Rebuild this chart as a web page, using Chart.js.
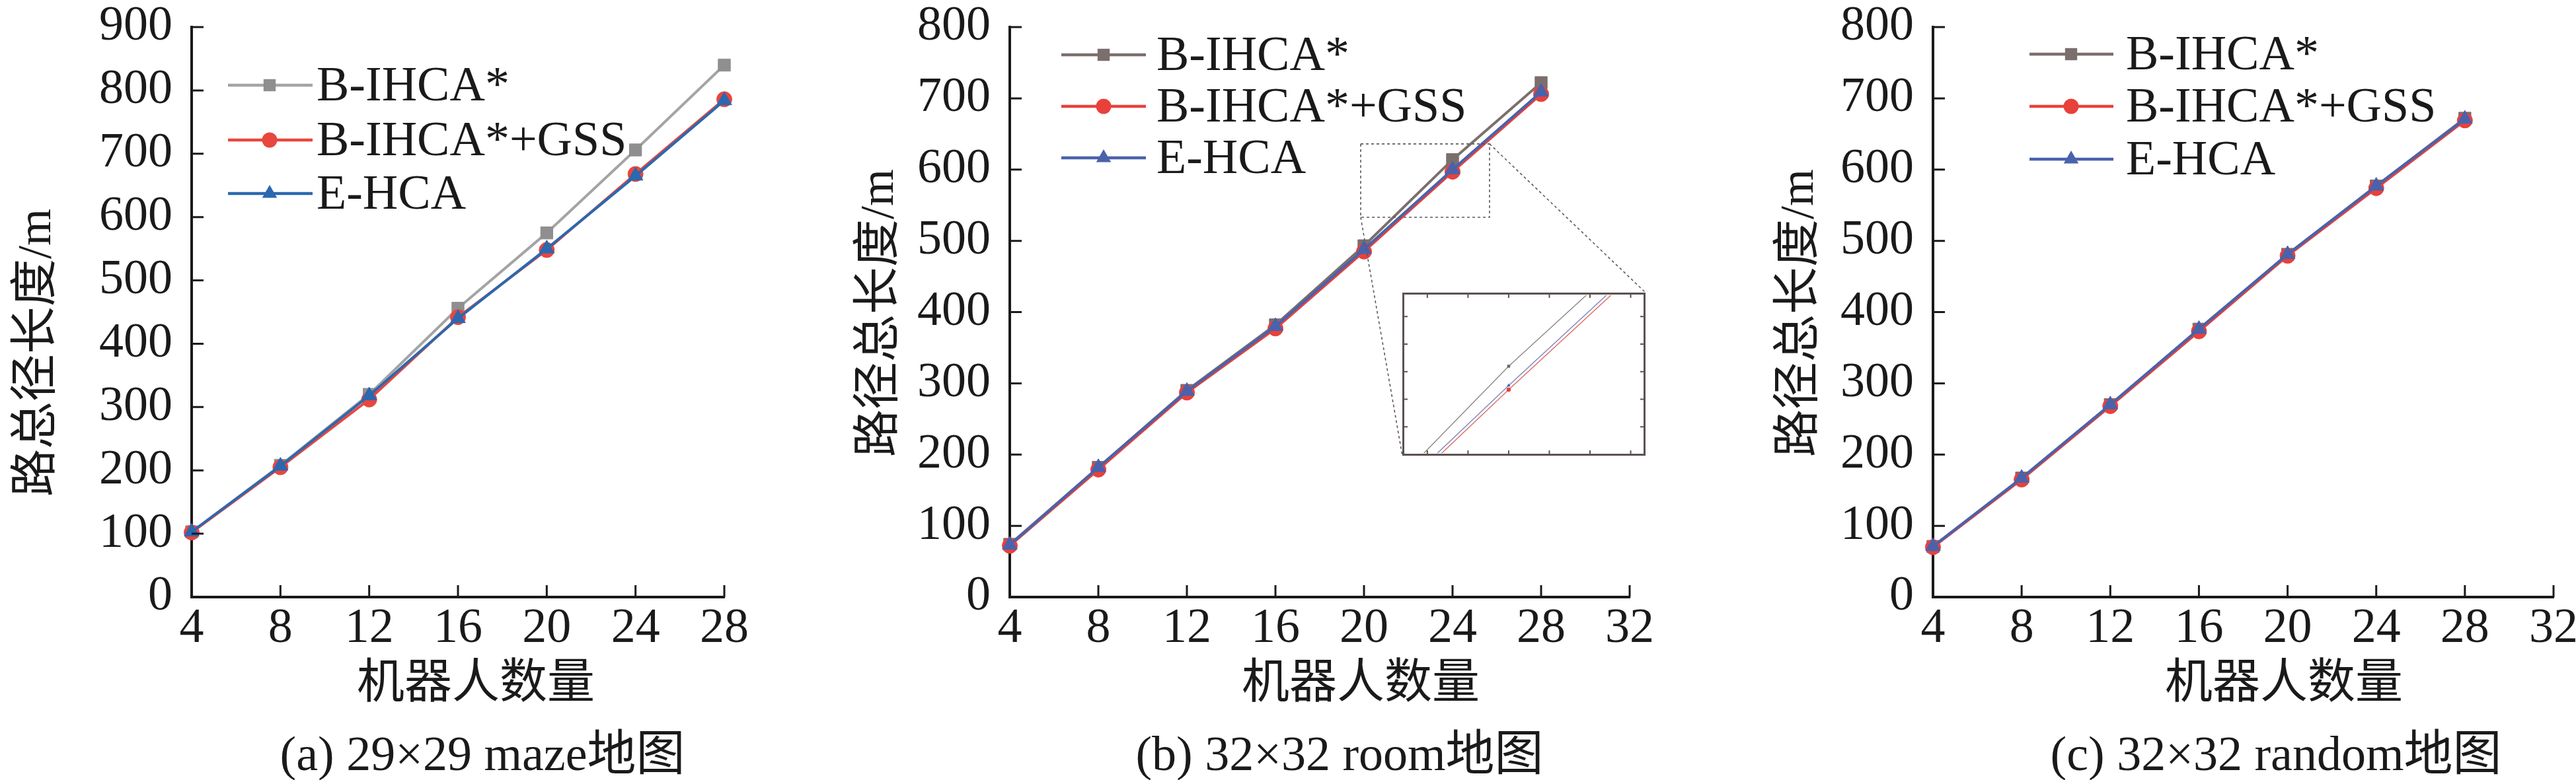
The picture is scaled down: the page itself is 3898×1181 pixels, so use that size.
<!DOCTYPE html>
<html><head><meta charset="utf-8">
<script src="https://cdn.jsdelivr.net/npm/chart.js@4.4.1/dist/chart.umd.min.js"></script>
<style>
html,body{margin:0;padding:0;background:#fff;width:3898px;height:1181px;overflow:hidden;}
body{position:relative;}
canvas{position:absolute;}
.t{position:absolute;white-space:nowrap;font-family:"Liberation Serif","Noto Sans CJK SC",serif;color:#1a1a1a;line-height:1;transform:translate(-50%,-50%);}
.yt{transform:translate(-50%,-50%) rotate(-90deg);}
</style></head><body>
<script>
// ---------------- data ----------------
const robots = [4, 8, 12, 16, 20, 24, 28];
const seriesNames = ['B-IHCA*', 'B-IHCA*+GSS', 'E-HCA'];
const xTicksA = [4, 8, 12, 16, 20, 24, 28];
const xTicksBC = [4, 8, 12, 16, 20, 24, 28, 32];
const yTicksA = [0, 100, 200, 300, 400, 500, 600, 700, 800, 900];
const yTicksBC = [0, 100, 200, 300, 400, 500, 600, 700, 800];
// (a) 29x29 maze
const mazeBIHCA = [103, 208, 320, 456, 575, 706, 840];
const mazeGSS   = [102, 205, 312, 442, 548, 668, 786];
const mazeEHCA  = [103, 207, 318, 440, 550, 665, 784];
// (b) 32x32 room
const roomBIHCA = [74, 182, 290, 382, 493, 614, 722];
const roomGSS   = [72, 179, 287, 377, 485, 597, 706];
const roomEHCA  = [73, 182, 289, 380, 488, 600, 709];
// (c) 32x32 random
const randBIHCA = [71, 167, 270, 376, 481, 577, 672];
const randGSS   = [70, 165, 268, 373, 479, 574, 669];
const randEHCA  = [71, 167, 270, 376, 481, 577, 671];
// zoom window in (b) and the inset's view range
const zoomBoxX = [19.85, 25.67];
const zoomBoxY = [533, 636];
const insetX = [21.45, 27.3];
const insetY = [551, 665.5];
const insetXTicks = [22, 23, 24, 25, 26, 27];
const insetYTicks = [570, 590, 610, 630, 650];
// texts
const yTitles = ['路总径长度/m', '路径总长度/m', '路径总长度/m'];
const xTitle = '机器人数量';
const captions = ['(a) 29×29 maze地图', '(b) 32×32 room地图', '(c) 32×32 random地图'];

// ---------------- layout ----------------
const TOP = -100, H = 1281, AREA_TOP = 141, AREA_BOTTOM = 1004;
const INK = '#1a1a1a';
const SERIF = '"Liberation Serif", "Times New Roman", serif';
const insetBox = {left: 2122, top: 443, width: 368, height: 247};

function drawMarker(ctx, style, x, y, r, color) {
  ctx.save();
  ctx.fillStyle = color;
  ctx.beginPath();
  if (style === 'rect') {
    const s = r * Math.SQRT1_2;
    ctx.rect(x - s, y - s, 2 * s, 2 * s);
  } else if (style === 'circle') {
    ctx.arc(x, y, r, 0, Math.PI * 2);
  } else {
    let a = 0;
    ctx.moveTo(x + Math.sin(a) * r, y - Math.cos(a) * r);
    a += 2 * Math.PI / 3; ctx.lineTo(x + Math.sin(a) * r, y - Math.cos(a) * r);
    a += 2 * Math.PI / 3; ctx.lineTo(x + Math.sin(a) * r, y - Math.cos(a) * r);
    ctx.closePath();
  }
  ctx.fill();
  ctx.restore();
}

const innerTicks = {
  id: 'innerTicks',
  afterDraw(chart, args, opts) {
    if (!opts || !opts.len) return;
    const ctx = chart.ctx, x = chart.scales.x, y = chart.scales.y, a = chart.chartArea;
    ctx.save();
    ctx.strokeStyle = INK; ctx.lineWidth = 3;
    ctx.beginPath();
    x.ticks.forEach(t => { const p = x.getPixelForValue(t.value); ctx.moveTo(p, a.bottom); ctx.lineTo(p, a.bottom - opts.len); });
    y.ticks.forEach(t => { const p = y.getPixelForValue(t.value); ctx.moveTo(a.left, p); ctx.lineTo(a.left + opts.len, p); });
    ctx.stroke();
    ctx.restore();
  }
};

const customLegend = {
  id: 'customLegend',
  afterDraw(chart, args, o) {
    if (!o || !o.rows) return;
    const ctx = chart.ctx;
    chart.data.datasets.forEach((ds, i) => {
      const yy = o.rows[i];
      ctx.save();
      ctx.strokeStyle = ds.borderColor; ctx.lineWidth = 4.5;
      ctx.beginPath(); ctx.moveTo(o.x0, yy); ctx.lineTo(o.x1, yy); ctx.stroke();
      drawMarker(ctx, ds.pointStyle, o.xm, yy, ds.pointRadius, ds.pointBackgroundColor);
      ctx.fillStyle = INK;
      ctx.font = '74px ' + SERIF;
      ctx.textAlign = 'left';
      ctx.textBaseline = 'alphabetic';
      ctx.fillText(ds.label, o.xt, yy + 23);
      ctx.restore();
    });
  }
};

const zoomMarks = {
  id: 'zoomMarks',
  afterDatasetsDraw(chart, args, o) {
    if (!o || !o.on) return;
    const ctx = chart.ctx, x = chart.scales.x, y = chart.scales.y;
    const l = x.getPixelForValue(zoomBoxX[0]), r = x.getPixelForValue(zoomBoxX[1]);
    const t = y.getPixelForValue(zoomBoxY[1]), b = y.getPixelForValue(zoomBoxY[0]);
    const ox = o.offsetX, oy = o.offsetY;
    const iL = insetBox.left - ox, iT = insetBox.top - oy, iR = iL + insetBox.width, iB = iT + insetBox.height;
    ctx.save();
    ctx.strokeStyle = '#5a5a5a'; ctx.lineWidth = 1.6; ctx.setLineDash([4, 4]);
    ctx.strokeRect(l, t, r - l, b - t);
    ctx.beginPath();
    ctx.moveTo(l, b); ctx.lineTo(iL, iB);
    ctx.moveTo(r, t); ctx.lineTo(iR, iT);
    ctx.stroke();
    ctx.restore();
  }
};

function makeDatasets(vals, cols) {
  const styles = ['rect', 'circle', 'triangle'];
  const radii = [13, 11.5, 13];
  return vals.map((v, i) => ({
    label: seriesNames[i],
    data: robots.map((r, k) => ({x: r, y: v[k]})),
    borderColor: cols[i].line,
    backgroundColor: cols[i].mark,
    pointBackgroundColor: cols[i].mark,
    pointBorderColor: cols[i].mark,
    pointBorderWidth: 1,
    pointStyle: styles[i],
    pointRadius: radii[i],
    borderWidth: 4,
    clip: false,
    order: 3 - i
  }));
}

const palA = [{line: '#a4a4a4', mark: '#8f8f8f'}, {line: '#e8463f', mark: '#e8463f'}, {line: '#2b68af', mark: '#2b68af'}];
const palB = [{line: '#7b6f6d', mark: '#7b6f6d'}, {line: '#e8413c', mark: '#e8413c'}, {line: '#4a62ab', mark: '#4a62ab'}];

const panels = [
  {left: 0, width: 1300, yW: 290, padR: 204, xMax: 28, yMax: 900, xt: xTicksA, yt: yTicksA,
   vals: [mazeBIHCA, mazeGSS, mazeEHCA], pal: palA,
   legend: {x0: 345, x1: 473, xm: 408, xt: 479, rows: [129, 212, 293]},
   yTitle: [52, 534], xTitle: [720, 1032], cap: [730, 1141]},
  {left: 1300, width: 1300, yW: 228, padR: 134, xMax: 32, yMax: 800, xt: xTicksBC, yt: yTicksBC,
   vals: [roomBIHCA, roomGSS, roomEHCA], pal: palB, zoom: true,
   legend: {x0: 1606, x1: 1734, xm: 1670, xt: 1750, rows: [83, 161, 239]},
   yTitle: [1327, 474], xTitle: [2059, 1032], cap: [2027, 1141]},
  {left: 2600, width: 1400, yW: 325, padR: 136, xMax: 32, yMax: 800, xt: xTicksBC, yt: yTicksBC,
   vals: [randBIHCA, randGSS, randEHCA], pal: palB,
   legend: {x0: 3071, x1: 3198, xm: 3134, xt: 3217, rows: [82, 161, 241]},
   yTitle: [2719, 474], xTitle: [3456, 1032], cap: [3444, 1141]}
];

function addText(txt, x, y, size, cls) {
  const d = document.createElement('div');
  d.className = 't' + (cls ? ' ' + cls : '');
  d.style.left = x + 'px'; d.style.top = y + 'px'; d.style.fontSize = size + 'px';
  d.textContent = txt;
  document.body.appendChild(d);
}

const insetFrame = {
  id: 'insetFrame',
  afterDraw(chart) {
    const ctx = chart.ctx, x = chart.scales.x, y = chart.scales.y;
    const w = chart.width, h = chart.height;
    ctx.save();
    ctx.strokeStyle = '#5b5252'; ctx.lineWidth = 3;
    ctx.strokeRect(1.5, 1.5, w - 3, h - 3);
    ctx.lineWidth = 2;
    ctx.beginPath();
    insetXTicks.forEach(v => { const p = x.getPixelForValue(v); ctx.moveTo(p, h); ctx.lineTo(p, h - 8); ctx.moveTo(p, 0); ctx.lineTo(p, 8); });
    insetYTicks.forEach(v => { const p = y.getPixelForValue(v); ctx.moveTo(0, p); ctx.lineTo(8, p); ctx.moveTo(w, p); ctx.lineTo(w - 8, p); });
    ctx.stroke();
    ctx.restore();
  }
};

Chart.defaults.font.family = SERIF;
panels.forEach((p, idx) => {
  const cv = document.createElement('canvas');
  cv.width = p.width; cv.height = H;
  cv.style.left = p.left + 'px'; cv.style.top = TOP + 'px';
  cv.style.width = p.width + 'px'; cv.style.height = H + 'px';
  document.body.appendChild(cv);
  const lg = p.legend;
  new Chart(cv.getContext('2d'), {
    type: 'line',
    data: {datasets: makeDatasets(p.vals, p.pal)},
    options: {
      responsive: false, animation: false, devicePixelRatio: 1,
      layout: {padding: {left: 0, right: p.padR, top: AREA_TOP, bottom: 0}},
      plugins: {
        legend: {display: false}, tooltip: {enabled: false},
        innerTicks: {len: 18},
        customLegend: {x0: lg.x0 - p.left, x1: lg.x1 - p.left, xm: lg.xm - p.left, xt: lg.xt - p.left,
                       rows: lg.rows.map(r => r - TOP)},
        zoomMarks: {on: !!p.zoom, offsetX: p.left, offsetY: TOP}
      },
      scales: {
        x: {type: 'linear', min: 4, max: p.xMax,
            afterBuildTicks: s => { s.ticks = p.xt.map(v => ({value: v})); },
            afterFit: s => { s.height = H - AREA_BOTTOM; },
            grid: {display: false, drawTicks: false},
            border: {display: true, color: INK, width: 4},
            ticks: {color: INK, padding: 4, maxRotation: 0, autoSkip: false, font: {family: SERIF, size: 74}}},
        y: {type: 'linear', min: 0, max: p.yMax,
            afterBuildTicks: s => { s.ticks = p.yt.map(v => ({value: v})); },
            afterFit: s => { s.width = p.yW; },
            grid: {display: false, drawTicks: false},
            border: {display: true, color: INK, width: 4},
            ticks: {color: INK, padding: 29, autoSkip: false, font: {family: SERIF, size: 74}}}
      }
    },
    plugins: [innerTicks, customLegend, zoomMarks]
  });
  addText(yTitles[idx], p.yTitle[0], p.yTitle[1], 72, 'yt');
  addText(xTitle, p.xTitle[0], p.xTitle[1], 72);
  addText(captions[idx], p.cap[0], p.cap[1], 74);
});

(function () {
  const cv = document.createElement('canvas');
  cv.width = insetBox.width; cv.height = insetBox.height;
  cv.style.left = insetBox.left + 'px'; cv.style.top = insetBox.top + 'px';
  cv.style.width = insetBox.width + 'px'; cv.style.height = insetBox.height + 'px';
  cv.style.background = '#fff';
  document.body.appendChild(cv);
  const ds = makeDatasets([roomBIHCA, roomGSS, roomEHCA],
    [{line: '#8f8686', mark: '#6f6666'}, {line: '#e06a60', mark: '#e8413c'}, {line: '#7a86c0', mark: '#4a62ab'}]);
  ds.forEach(d => { d.borderWidth = 1.4; d.pointRadius = 3.2; d.pointBorderWidth = 0; d.clip = 0; });
  new Chart(cv.getContext('2d'), {
    type: 'line',
    data: {datasets: ds},
    options: {
      responsive: false, animation: false, devicePixelRatio: 1,
      layout: {padding: 0},
      plugins: {legend: {display: false}, tooltip: {enabled: false}},
      scales: {
        x: {type: 'linear', min: insetX[0], max: insetX[1], display: false},
        y: {type: 'linear', min: insetY[0], max: insetY[1], display: false}
      }
    },
    plugins: [insetFrame]
  });
})();
</script>
</body></html>
